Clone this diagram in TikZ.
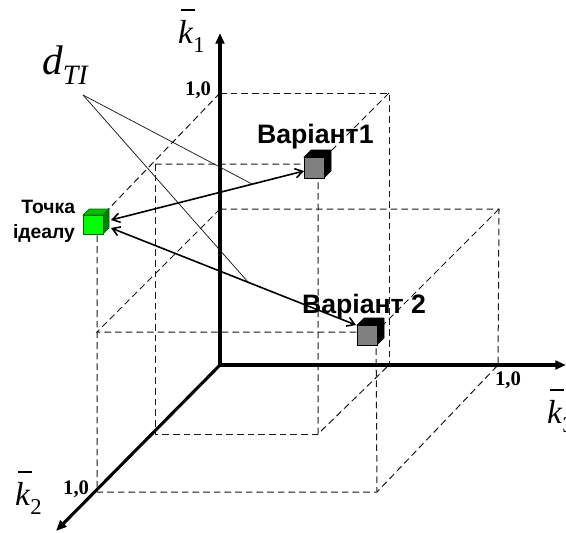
\documentclass[tikz,border=0pt]{standalone}
\usepackage{fontspec}
\setmainfont{Liberation Serif}
\setsansfont{Liberation Sans}
\usetikzlibrary{arrows.meta}
\newcommand\kbar[1]{\fontsize{25}{25}\selectfont\makebox[0pt][l]{\hspace{0.1em}\rule[0.95em]{0.42em}{0.06em}}\textit{k}\raisebox{-0.28em}{\fontsize{17}{17}\selectfont #1}}
\newcommand\onezero{\fontsize{15.5}{15.5}\selectfont\bfseries 1,0}
\newcommand\vlab[1]{\sffamily\bfseries\fontsize{20}{24}\selectfont #1}
\newcommand\ilab[1]{\sffamily\bfseries\fontsize{14.5}{16}\selectfont #1}
\begin{document}
\begin{tikzpicture}[x=0.75pt,y=-0.75pt,
  axis/.style={line width=2.3pt,-{Triangle[length=8pt,width=6.5pt]}},
  guide/.style={line width=0.75pt,dash pattern=on 5pt off 3pt,black!90},
  link/.style={line width=1.2pt,{Straight Barb[length=5.5pt,width=7pt]}-{Straight Barb[length=5.5pt,width=7pt]}},
  pointer/.style={line width=0.55pt,black!90},
  lbl/.style={inner sep=0pt,outer sep=0pt}]
\useasboundingbox (0,0) rectangle (566,532);
\clip (0,0) rectangle (566,532);
% points
\coordinate (O) at (220,365);
\coordinate (k1tip) at (220,33);
\coordinate (k3tip) at (566,365);
\coordinate (k2tip) at (56,531);
\coordinate (A) at (220,93);
\coordinate (B) at (389,93);
\coordinate (V1) at (318,164);
\coordinate (C) at (155,164);
\coordinate (D) at (155,434);
\coordinate (E) at (318,434);
\coordinate (F) at (389,365);
\coordinate (G) at (97,221);
\coordinate (H) at (220,209);
\coordinate (I) at (97,332);
\coordinate (V2) at (376,332);
\coordinate (J) at (377,492);
\coordinate (K) at (97,492);
\coordinate (L) at (498,365);
\coordinate (M) at (499,209);
% dashed guides
\draw[guide] (A) -- (B) -- (F);
\draw[guide] (B) -- (V1);
\draw[guide] (A) -- (G) -- (K) -- (J) -- (L);
\draw[guide] (C) -- (V1) -- (E) -- (F);
\draw[guide] (C) -- (D) -- (E);
\draw[guide] (H) -- (M) -- (L);
\draw[guide] (H) -- (I) -- (V2) -- (J);
\draw[guide] (M) -- (V2);
% axes
\draw[axis] (O) -- (k1tip);
\draw[axis] (O) -- (k3tip);
\draw[axis] (O) -- (k2tip);
% pointers from d_TI
\coordinate (dp) at (83,95);
\coordinate (pA) at (252,184);
\coordinate (pB) at (248,282);
\draw[pointer] (dp) -- (pA);
\draw[pointer] (dp) -- (pB);
% cubes
\filldraw[draw=green!40!black,line width=0.4pt,fill=green!75!black] (83,215) -- (89,209) -- (109,209) -- (103,215) -- cycle;
\filldraw[draw=green!40!black,line width=0.4pt,fill=green!50!black] (103,215) -- (109,209) -- (109,228) -- (103,234) -- cycle;
\filldraw[draw=green!40!black,line width=0.4pt,fill=green] (83,215) rectangle (103,234);
\filldraw[draw=black,line width=0.4pt,fill=black] (304,157) -- (311,150) -- (331,150) -- (331,171) -- (324,178) -- (324,157) -- cycle;
\filldraw[draw=black,line width=0.6pt,fill=black!50] (304,157) rectangle (324,178);
\filldraw[draw=black,line width=0.4pt,fill=black] (357,325) -- (364,318) -- (384,318) -- (384,338) -- (377,345) -- (377,325) -- cycle;
\filldraw[draw=black,line width=0.6pt,fill=black!50] (357,325) rectangle (377,345);
% distance arrows
\coordinate (gA) at (111,220);
\coordinate (vA) at (304,171);
\coordinate (gB) at (111,228);
\coordinate (vB) at (356,325);
\draw[link] (gA) -- (vA);
\draw[link] (gB) -- (vB);
% labels
\node[lbl,anchor=base west] (k1lab) at (178,43) {\kbar{1}};
\node[lbl,anchor=base west] (k2lab) at (15,505) {\kbar{2}};
\node[lbl,anchor=base west] (k3lab) at (547,423) {\kbar{3}};
\node[lbl,anchor=base east] (one1) at (211,95) {\onezero};
\node[lbl,anchor=base west] (one3) at (495,385) {\onezero};
\node[lbl,anchor=base east] (one2) at (89,494) {\onezero};
\node[lbl,anchor=base west] (dti) at (42,74) {\fontsize{31}{31}\selectfont\textit{d}\raisebox{-0.25em}{\fontsize{21}{21}\selectfont\textit{TI}}};
\node[lbl,anchor=base west] (v1lab) at (257,143) {\vlab{Варіант1}};
\node[lbl,anchor=base west] (v2lab) at (302,313) {\vlab{Варіант 2}};
\node[lbl,anchor=base east] (ideal1) at (75,213) {\ilab{Точка}};
\node[lbl,anchor=base east] (ideal2) at (75,238) {\ilab{ідеалу}};
\end{tikzpicture}
\end{document}
